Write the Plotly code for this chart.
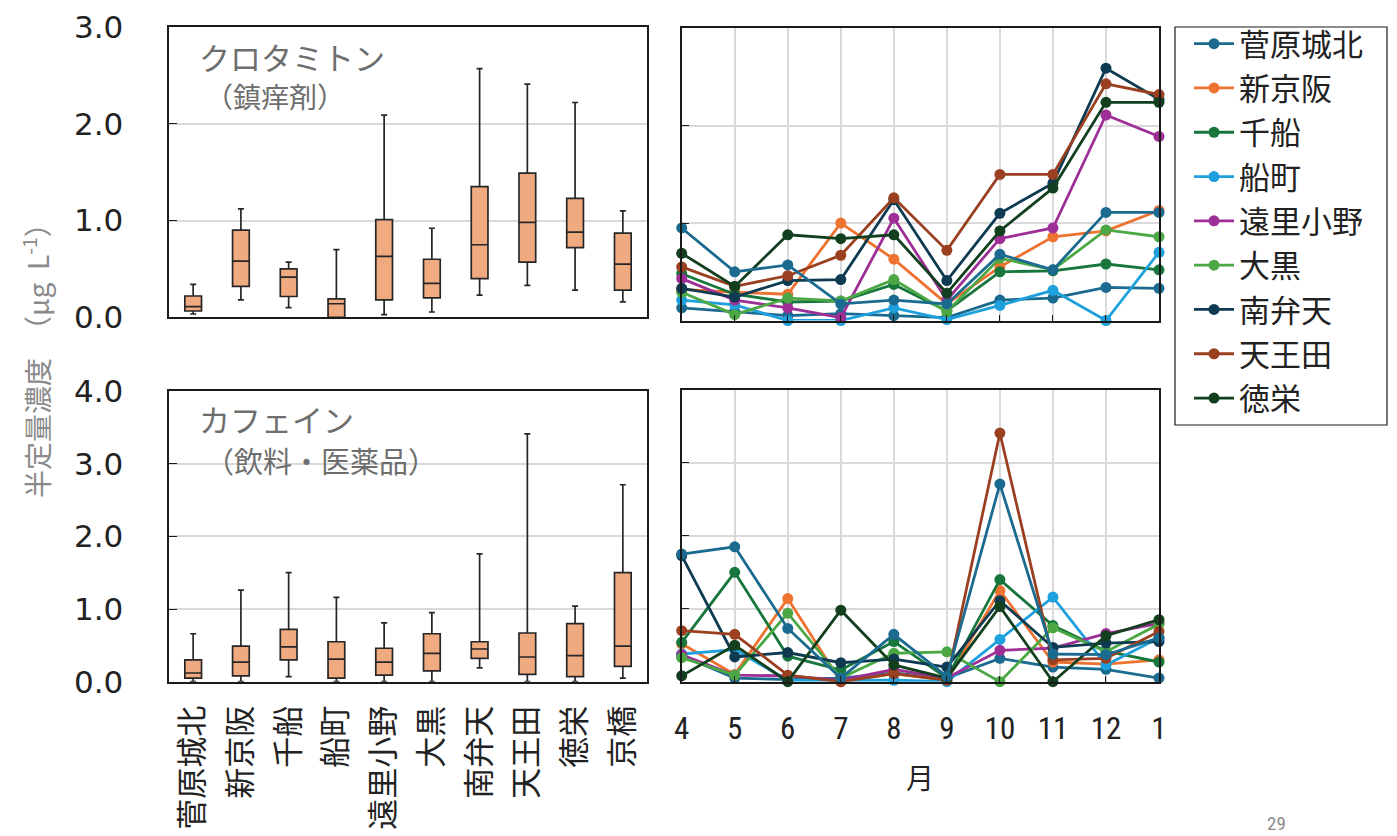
import plotly.graph_objects as go

# page body has an 8px margin: figure is placed at (8, 8)
OFF = 8
W, H = 1397 - OFF, 836 - OFF

sites = ["菅原城北", "新京阪", "千船", "船町", "遠里小野", "大黒", "南弁天", "天王田", "徳栄", "京橋"]
months = ["4", "5", "6", "7", "8", "9", "10", "11", "12", "1"]

# crotamiton box stats
cro_q1 = [0.065, 0.32, 0.215, 0.0, 0.18, 0.20, 0.40, 0.57, 0.72, 0.28]
cro_med = [0.11, 0.58, 0.415, 0.14, 0.63, 0.35, 0.75, 0.98, 0.88, 0.55]
cro_q3 = [0.22, 0.90, 0.50, 0.19, 1.01, 0.60, 1.35, 1.49, 1.23, 0.87]
cro_lo = [0.034, 0.18, 0.10, 0.0, 0.027, 0.055, 0.23, 0.33, 0.28, 0.16]
cro_hi = [0.34, 1.12, 0.57, 0.70, 2.09, 0.92, 2.57, 2.41, 2.22, 1.10]

# caffeine box stats
caf_q1 = [0.05, 0.08, 0.30, 0.05, 0.09, 0.15, 0.32, 0.10, 0.07, 0.21]
caf_med = [0.12, 0.27, 0.48, 0.31, 0.27, 0.39, 0.45, 0.34, 0.36, 0.49]
caf_q3 = [0.30, 0.49, 0.72, 0.55, 0.46, 0.66, 0.55, 0.67, 0.80, 1.50]
caf_lo = [0.0, 0.0, 0.07, 0.0, 0.0, 0.0, 0.19, 0.0, 0.0, 0.05]
caf_hi = [0.66, 1.26, 1.50, 1.16, 0.81, 0.95, 1.76, 3.41, 1.04, 2.71]

# monthly crotamiton
cro_sugahara = [0.13, 0.09, 0.05, 0.07, 0.05, 0.03, 0.21, 0.23, 0.34, 0.33]
cro_shinkeihan = [0.32, 0.29, 0.27, 1.00, 0.63, 0.17, 0.55, 0.86, 0.92, 1.13]
cro_chibune = [0.48, 0.27, 0.19, 0.20, 0.37, 0.10, 0.50, 0.51, 0.58, 0.52]
cro_funamachi = [0.21, 0.16, 0.0, 0.0, 0.13, 0.01, 0.155, 0.31, 0.0, 0.70]
cro_oriono = [0.43, 0.21, 0.13, 0.03, 1.05, 0.21, 0.84, 0.95, 2.11, 1.89]
cro_daikoku = [0.29, 0.06, 0.23, 0.20, 0.42, 0.09, 0.64, 0.52, 0.93, 0.86]
cro_minamibenten = [0.33, 0.24, 0.41, 0.42, 1.24, 0.41, 1.10, 1.41, 2.59, 2.27]
cro_tennoden = [0.55, 0.35, 0.46, 0.67, 1.26, 0.72, 1.50, 1.50, 2.43, 2.32]
cro_tokuei = [0.69, 0.35, 0.88, 0.84, 0.88, 0.28, 0.92, 1.36, 2.24, 2.24]
cro_kyobashi = [0.95, 0.50, 0.57, 0.17, 0.21, 0.17, 0.68, 0.52, 1.11, 1.11]

# monthly caffeine
caf_sugahara = [0.36, 0.05, 0.03, 0.05, 0.12, 0.05, 0.32, 0.20, 0.17, 0.05]
caf_shinkeihan = [0.52, 0.10, 1.14, 0.0, 0.11, 0.02, 1.25, 0.27, 0.24, 0.30]
caf_chibune = [0.54, 1.50, 0.35, 0.16, 0.55, 0.05, 1.40, 0.77, 0.42, 0.27]
caf_funamachi = [0.38, 0.44, 0.02, 0.02, 0.02, 0.0, 0.58, 1.16, 0.23, 0.60]
caf_oriono = [0.37, 0.09, 0.08, 0.02, 0.17, 0.05, 0.43, 0.46, 0.66, 0.80]
caf_daikoku = [0.33, 0.09, 0.94, 0.05, 0.39, 0.41, 0.0, 0.74, 0.41, 0.79]
caf_minamibenten = [1.73, 0.34, 0.40, 0.26, 0.31, 0.20, 1.11, 0.47, 0.53, 0.55]
caf_tennoden = [0.70, 0.65, 0.09, 0.0, 0.11, 0.02, 3.41, 0.30, 0.32, 0.69]
caf_tokuei = [0.08, 0.50, 0.0, 0.98, 0.23, 0.05, 1.03, 0.0, 0.63, 0.85]
caf_kyobashi = [1.75, 1.85, 0.73, 0.05, 0.65, 0.07, 2.71, 0.38, 0.37, 0.60]

cro_lines = [cro_sugahara, cro_shinkeihan, cro_chibune, cro_funamachi, cro_oriono,
             cro_daikoku, cro_minamibenten, cro_tennoden, cro_tokuei, cro_kyobashi]
caf_lines = [caf_sugahara, caf_shinkeihan, caf_chibune, caf_funamachi, caf_oriono,
             caf_daikoku, caf_minamibenten, caf_tennoden, caf_tokuei, caf_kyobashi]

colors = ["#1B6A8F", "#EE7230", "#17763C", "#1DA0DC", "#9E2F96",
          "#4BA845", "#0E3A52", "#9A4020", "#123F1E", "#1B6A8F"]

JP = "Noto Sans CJK JP"
NUM = "DejaVu Sans"
BOXFILL = "#F0AA80"

fig = go.Figure()

fig.add_trace(go.Box(x=sites, q1=cro_q1, median=cro_med, q3=cro_q3,
                     lowerfence=cro_lo, upperfence=cro_hi,
                     fillcolor=BOXFILL, line=dict(color="#262626", width=1.7),
                     whiskerwidth=0.36, showlegend=False, xaxis="x", yaxis="y"))
fig.add_trace(go.Box(x=sites, q1=caf_q1, median=caf_med, q3=caf_q3,
                     lowerfence=caf_lo, upperfence=caf_hi,
                     fillcolor=BOXFILL, line=dict(color="#262626", width=1.7),
                     whiskerwidth=0.36, showlegend=False, xaxis="x2", yaxis="y2"))

xidx = list(range(len(months)))
for i, name in enumerate(sites):
    fig.add_trace(go.Scatter(x=xidx, y=cro_lines[i], mode="lines+markers", name=name,
                             line=dict(color=colors[i], width=2.8),
                             marker=dict(color=colors[i], size=11),
                             cliponaxis=False, legendgroup=name,
                             showlegend=(name != "京橋"), xaxis="x3", yaxis="y3"))
for i, name in enumerate(sites):
    fig.add_trace(go.Scatter(x=xidx, y=caf_lines[i], mode="lines+markers", name=name,
                             line=dict(color=colors[i], width=2.8),
                             marker=dict(color=colors[i], size=11),
                             cliponaxis=False, legendgroup=name,
                             showlegend=False, xaxis="x4", yaxis="y4"))

def px(v):
    return (v - OFF) / W

def py(v):
    return 1 - (v - OFF) / H

frame = dict(showline=True, linecolor="#1a1a1a", linewidth=1.5, mirror=True,
             zeroline=False, automargin=False)
grid = "#d9d9d9"

xl = [px(169.3), px(646.7)]
xr = [px(681.7), px(1159)]
y_top_l = [py(317.3), py(27)]
y_bot_l = [py(681.7), py(391)]
y_top_r = [py(320.5), py(28.3)]
y_bot_r = [py(681.7), py(390)]

yl_common = dict(tickformat=".1f", dtick=1, ticks="inside", ticklen=8, tickcolor="#1a1a1a",
                 showgrid=True, gridcolor=grid, gridwidth=1.5,
                 tickfont=dict(family=NUM, size=31, color="#222222"),
                 ticklabelstandoff=38, **frame)

fig.update_layout(
    width=W, height=H,
    margin=dict(l=0, r=0, t=0, b=0, autoexpand=False),
    paper_bgcolor="white", plot_bgcolor="white",
    boxgap=0.5,
    font=dict(family=JP, color="#222222"),
    xaxis=dict(domain=xl, anchor="y", type="category", showticklabels=False,
               showgrid=False, ticks="", **frame),
    yaxis=dict(domain=y_top_l, anchor="x", range=[0, 3], **yl_common),
    xaxis2=dict(domain=xl, anchor="y2", type="category", showgrid=False, ticks="",
                tickangle=-90, ticklabelstandoff=10,
                tickfont=dict(family=JP, size=31, color="#222222"), **frame),
    yaxis2=dict(domain=y_bot_l, anchor="x2", range=[0, 4], **yl_common),
    xaxis3=dict(domain=xr, anchor="y3", range=[0, 9], tickvals=xidx, showticklabels=False,
                showgrid=True, gridcolor=grid, gridwidth=1.5, ticks="inside", ticklen=6,
                tickcolor="#1a1a1a", **frame),
    yaxis3=dict(domain=y_top_r, anchor="x3", range=[0, 3], dtick=1, showticklabels=False,
                ticks="inside", ticklen=8, tickcolor="#1a1a1a",
                showgrid=True, gridcolor=grid, gridwidth=1.5, **frame),
    xaxis4=dict(domain=xr, anchor="y4", range=[0, 9], tickvals=xidx, ticktext=months,
                showgrid=True, gridcolor=grid, gridwidth=1.5, ticks="inside", ticklen=6,
                tickcolor="#1a1a1a", ticklabelstandoff=18,
                tickfont=dict(family="Roboto Condensed, Roboto", size=31, color="#222222"),
                **frame),
    yaxis4=dict(domain=y_bot_r, anchor="x4", range=[0, 4], dtick=1, showticklabels=False,
                ticks="inside", ticklen=8, tickcolor="#1a1a1a",
                showgrid=True, gridcolor=grid, gridwidth=1.5, **frame),
    legend=dict(x=px(1189), y=py(17), xanchor="left", yanchor="top",
                borderwidth=0, bgcolor="rgba(0,0,0,0)",
                font=dict(family=JP, size=31, color="#222222"),
                traceorder="grouped", tracegroupgap=1, itemwidth=40),
    shapes=[dict(type="rect", xref="paper", yref="paper",
                 x0=px(1175), x1=px(1387), y0=py(425), y1=py(27),
                 line=dict(color="#1a1a1a", width=1.2), fillcolor="rgba(0,0,0,0)",
                 layer="below")],
)

ann_gray = "#6e6e6e"
annotations = [
    dict(text="クロタミトン", x=px(197), y=py(56), xanchor="left", yanchor="middle",
         font=dict(family=JP, size=31, color=ann_gray)),
    dict(text="（鎮痒剤）", x=px(203), y=py(96), xanchor="left", yanchor="middle",
         font=dict(family=JP, size=28, color=ann_gray)),
    dict(text="カフェイン", x=px(197), y=py(418), xanchor="left", yanchor="middle",
         font=dict(family=JP, size=31, color=ann_gray)),
    dict(text="（飲料・医薬品）", x=px(203), y=py(460), xanchor="left", yanchor="middle",
         font=dict(family=JP, size=29, color=ann_gray)),
    dict(text="半定量濃度　（μg  L<sup>-1</sup>）", x=px(35), y=py(354), textangle=-90,
         xanchor="center", yanchor="middle",
         font=dict(family=JP, size=28, color="#8a8a8a")),
    dict(text="月", x=px(920), y=py(777), xanchor="center", yanchor="middle",
         font=dict(family=JP, size=28, color="#222222")),
    dict(text="29", x=px(1276), y=py(823), xanchor="center", yanchor="middle",
         font=dict(family="Roboto Condensed, Roboto", size=19, color="#8a8a8a")),
]
for a in annotations:
    a.update(xref="paper", yref="paper", showarrow=False)
fig.update_layout(annotations=annotations)

fig.write_html("out.html")
